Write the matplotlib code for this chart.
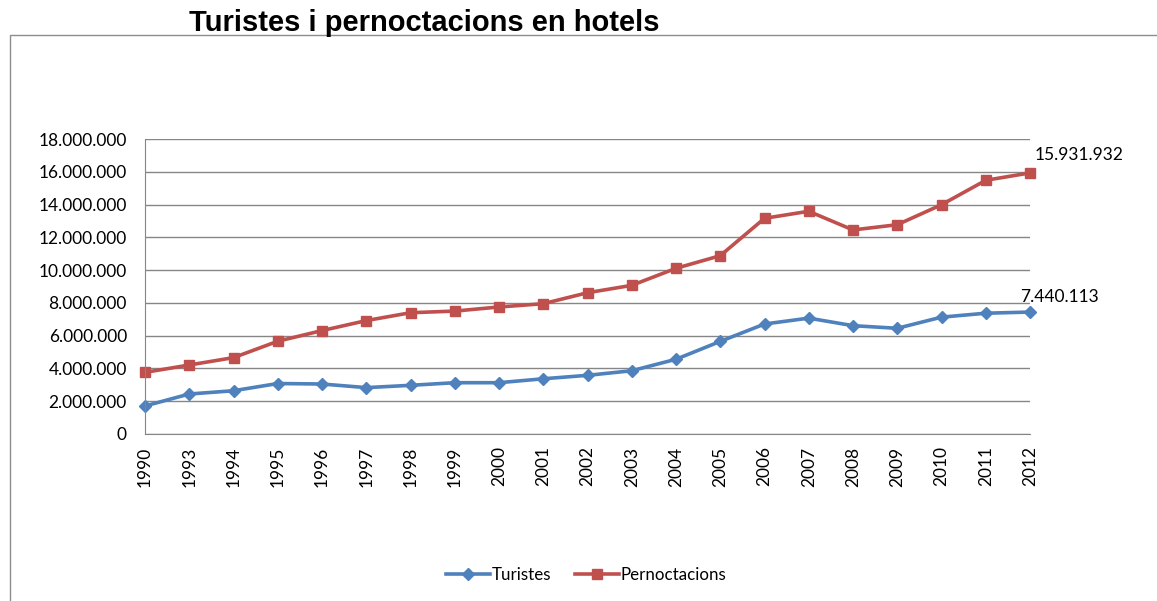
import matplotlib.pyplot as plt
from matplotlib.patches import Rectangle
from matplotlib.ticker import FuncFormatter

# Dades
anys = ['1990', '1993', '1994', '1995', '1996', '1997', '1998', '1999', '2000', '2001',
        '2002', '2003', '2004', '2005', '2006', '2007', '2008', '2009', '2010', '2011', '2012']
turistes = [1710000, 2440000, 2640000, 3080000, 3050000, 2830000, 2970000, 3130000, 3130000, 3370000,
            3580000, 3860000, 4560000, 5650000, 6710000, 7070000, 6610000, 6450000, 7130000, 7370000, 7440113]
pernoctacions = [3760000, 4210000, 4660000, 5660000, 6310000, 6920000, 7400000, 7500000, 7750000, 7950000,
                 8620000, 9070000, 10110000, 10880000, 13160000, 13590000, 12450000, 12770000, 13990000, 15480000, 15931932]

W, H = 1157, 601
BLUE = '#4F81BD'
RED = '#C0504D'
GRID = '#868686'

plt.rcParams['font.family'] = ['Lato', 'DejaVu Sans']

fig = plt.figure(figsize=(W / 100, H / 100), dpi=100)

# marc del grafic
fig.patches.append(Rectangle((10 / W, -0.1), 1.2, 1 - 35 / H + 0.1, transform=fig.transFigure,
                             fill=False, edgecolor='#8c8c8c', linewidth=1))

fig.text(424 / W, 1 - 23 / H, 'Turistes i pernoctacions en hotels', ha='center', va='center',
         fontsize=21, fontweight='bold', family='Liberation Sans')

ax = fig.add_axes([145 / W, 1 - 434 / H, 885 / W, 295 / H])

x = list(range(len(anys)))
ax.plot(x, turistes, color=BLUE, linewidth=2.6, marker='D', markersize=6.5, label='Turistes', clip_on=False)
ax.plot(x, pernoctacions, color=RED, linewidth=2.6, marker='s', markersize=7.5, label='Pernoctacions', clip_on=False)

fmt = lambda v: f'{int(v):,}'.replace(',', '.')
ax.annotate(fmt(pernoctacions[-1]), (x[-1], pernoctacions[-1]), xytext=(35, 13),
            textcoords='offset points', ha='center', va='center', fontsize=12.5)
ax.annotate(fmt(turistes[-1]), (x[-1], turistes[-1]), xytext=(21, 11),
            textcoords='offset points', ha='center', va='center', fontsize=12.5)

ax.set_xlim(0, len(anys) - 1)
ax.set_ylim(0, 18000000)
ax.set_yticks(range(0, 18000001, 2000000))
ax.yaxis.set_major_formatter(FuncFormatter(lambda v, p: fmt(v)))
ax.set_xticks(x)
ax.set_xticklabels(anys, rotation=90)
ax.tick_params(axis='both', labelsize=12.5, length=0)
ax.tick_params(axis='y', pad=13)
ax.tick_params(axis='x', pad=9)

ax.grid(axis='y', color=GRID, linewidth=1)
ax.set_axisbelow(True)
for s in ['top', 'right']:
    ax.spines[s].set_visible(False)
for s in ['left', 'bottom']:
    ax.spines[s].set_color(GRID)

fig.legend(loc='center', bbox_to_anchor=(586 / W, 1 - 575 / H), ncol=2, frameon=False,
           fontsize=12.2, handlelength=2.6, handletextpad=0.1, columnspacing=1.4)

fig.savefig('out.png', dpi=100)
